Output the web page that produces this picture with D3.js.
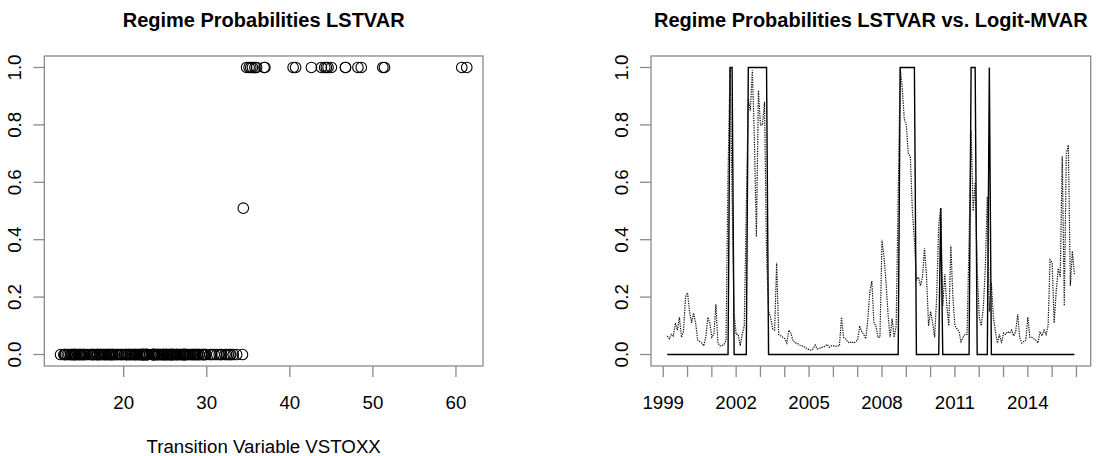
<!DOCTYPE html>
<html><head><meta charset="utf-8">
<script src="https://cdn.jsdelivr.net/npm/d3@7"></script>
<style>
body{margin:0;background:#fff}
text{font-family:"Liberation Sans",Arial,Helvetica,sans-serif;fill:#000}
</style>
</head><body>
<svg id="c" width="1118" height="456"></svg>
<script>
// ---- data (monthly, Mar 1999 .. Dec 2015) ----
const startYear = 1999, startMonth = 3;
const vstoxx = [
  28.5,26.0,24.5,22.8,21.5,24.0,25.2,27.4,22.6,21.0,
  25.5,26.3,27.1,28.9,29.8,23.7,21.9,20.4,23.5,27.8,26.4,27.3,
  24.1,25.6,30.4,29.1,22.3,22.9,25.1,26.2,33.6,40.4,36.9,27.2,
  24.8,26.7,22.4,25.9,29.9,32.4,42.6,45.0,48.6,51.2,40.7,36.0,
  43.8,46.7,48.2,35.8,32.9,28.4,27.5,24.2,31.8,23.6,22.1,20.3,
  19.8,20.9,23.4,19.2,21.5,18.7,17.9,18.4,17.1,17.6,15.9,14.8,
  14.2,13.6,14.9,17.2,15.1,13.9,13.4,14.5,13.2,16.8,14.1,13.0,
  14.6,14.0,13.7,16.5,24.8,22.3,16.9,15.4,14.3,13.8,12.9,12.4,
  12.8,14.7,17.8,15.2,14.1,16.3,20.6,24.5,22.8,20.1,21.7,22.4,
  27.6,28.3,29.4,24.9,23.5,25.8,28.9,27.1,31.5,61.3,60.7,51.4,
  46.7,44.6,44.2,35.5,35.1,31.2,29.7,27.3,26.8,28.6,25.4,24.7,
  25.6,26.9,22.8,24.3,34.3,34.4,28.1,26.5,25.7,24.0,27.2,25.1,
  23.8,22.6,28.0,21.9,22.2,23.6,32.2,33.2,44.4,37.0,35.3,32.8,
  30.6,26.4,24.8,28.7,32.6,34.8,29.6,25.2,22.3,21.4,20.6,18.9,
  18.5,19.6,20.8,19.1,18.2,22.1,18.7,19.8,18.3,16.8,16.2,17.5,
  18.1,17.3,16.4,16.9,15.6,15.2,16.1,17.8,18.6,21.3,19.4,22.5,
  23.7,21.2,20.3,22.8,23.6,25.9,27.4,29.5,30.9,31.7,25.8,29.1
];
const lstvarProb = [
  0,0,0,0,0,0,0,0,0,0,
  0,0,0,0,0,0,0,0,0,0,0,0,
  0,0,0,0,0,0,0,0,0,1,1,0,
  0,0,0,0,0,0,1,1,1,1,1,1,
  1,1,1,1,0,0,0,0,0,0,0,0,
  0,0,0,0,0,0,0,0,0,0,0,0,
  0,0,0,0,0,0,0,0,0,0,0,0,
  0,0,0,0,0,0,0,0,0,0,0,0,
  0,0,0,0,0,0,0,0,0,0,0,0,
  0,0,0,0,0,0,0,0,0,1,1,1,
  1,1,1,1,1,0,0,0,0,0,0,0,
  0,0,0,0,0,0.51,0,0,0,0,0,0,
  0,0,0,0,0,0,0,0,1,1,1,0,
  0,0,0,0,0,1,0,0,0,0,0,0,
  0,0,0,0,0,0,0,0,0,0,0,0,
  0,0,0,0,0,0,0,0,0,0,0,0,
  0,0,0,0,0,0,0,0,0,0,0,0
];
const logitProb = [
  0.065,0.055,0.07,0.065,0.11,0.085,0.13,0.06,0.08,0.20,
  0.215,0.15,0.11,0.145,0.11,0.05,0.045,0.04,0.03,0.06,0.13,0.11,
  0.06,0.07,0.175,0.04,0.03,0.03,0.035,0.05,0.63,1.0,0.55,0.14,
  0.07,0.07,0.03,0.07,0.10,0.50,0.89,0.85,0.99,0.75,0.41,0.92,
  0.80,0.80,0.88,0.35,0.15,0.13,0.09,0.085,0.32,0.07,0.065,0.06,
  0.055,0.04,0.085,0.075,0.05,0.04,0.04,0.035,0.03,0.03,0.025,0.02,
  0.017,0.015,0.02,0.033,0.02,0.02,0.025,0.025,0.03,0.035,0.025,0.03,
  0.03,0.028,0.03,0.03,0.13,0.06,0.055,0.045,0.04,0.045,0.04,0.045,
  0.05,0.10,0.08,0.07,0.055,0.12,0.22,0.256,0.11,0.10,0.06,0.06,
  0.40,0.34,0.25,0.14,0.06,0.125,0.06,0.10,0.55,1.0,0.93,0.82,
  0.80,0.70,0.69,0.50,0.40,0.26,0.27,0.24,0.27,0.37,0.27,0.10,
  0.15,0.11,0.06,0.20,0.45,0.51,0.17,0.28,0.17,0.10,0.38,0.20,
  0.10,0.09,0.08,0.045,0.06,0.07,0.07,0.40,0.78,0.50,0.60,0.30,
  0.13,0.10,0.16,0.30,0.55,0.15,0.25,0.13,0.08,0.04,0.07,0.04,
  0.075,0.07,0.08,0.075,0.085,0.065,0.08,0.14,0.06,0.04,0.045,0.05,
  0.13,0.06,0.06,0.055,0.05,0.04,0.08,0.065,0.085,0.07,0.10,0.33,
  0.32,0.11,0.22,0.30,0.27,0.69,0.17,0.70,0.73,0.24,0.36,0.28
];
const leftTitle = "Regime Probabilities LSTVAR";
const rightTitle = "Regime Probabilities LSTVAR vs. Logit-MVAR";
const leftXLabel = "Transition Variable VSTOXX";
const leftXTicks = [20,30,40,50,60];
const yTicks = [0,0.2,0.4,0.6,0.8,1.0];
const yearTicks = [1999,2000,2001,2002,2003,2004,2005,2006,2007,2008,2009,2010,2011,2012,2013,2014,2015,2016];
const yearLabels = [1999,2002,2005,2008,2011,2014];

// ---- drawing ----
const svg = d3.select("#c");
const axisCol = "#8a8a8a";
const fs = 18.7;
function pad(ext){const r=ext[1]-ext[0];return [ext[0]-0.04*r, ext[1]+0.04*r];}

const plotTop=56, plotBottom=366;
const y = d3.scaleLinear().domain(pad([0,1])).range([plotBottom, plotTop]);

function frame(g, x, left, right, xt, xlabels, title){
  g.append("rect").attr("x",left).attr("y",plotTop).attr("width",right-left).attr("height",plotBottom-plotTop)
    .attr("fill","none").attr("stroke",axisCol).attr("stroke-width",1.3);
  g.selectAll(".yt").data(yTicks).enter().append("line")
    .attr("x1",left).attr("x2",left-11).attr("y1",d=>y(d)).attr("y2",d=>y(d))
    .attr("stroke",axisCol).attr("stroke-width",1.3);
  g.selectAll(".yl").data(yTicks).enter().append("text")
    .attr("transform",d=>`translate(${left-30},${y(d)}) rotate(-90)`)
    .attr("text-anchor","middle").attr("dy","0.36em").attr("font-size",fs)
    .text(d=>d3.format(".1f")(d));
  g.selectAll(".xt").data(xt).enter().append("line")
    .attr("x1",d=>x(d)).attr("x2",d=>x(d)).attr("y1",plotBottom).attr("y2",plotBottom+11)
    .attr("stroke",axisCol).attr("stroke-width",1.3);
  g.selectAll(".xl").data(xlabels).enter().append("text")
    .attr("x",d=>x(d)).attr("y",409).attr("text-anchor","middle").attr("font-size",fs)
    .text(d=>d);
  g.append("text").attr("x",(left+right)/2).attr("y",27).attr("text-anchor","middle")
    .attr("font-size",20).attr("font-weight","bold").text(title);
}

// left panel
const lx = d3.scaleLinear().domain(pad(d3.extent(vstoxx))).range([44.3, 483]);
const gL = svg.append("g");
frame(gL, lx, 44.3, 483, leftXTicks, leftXTicks, leftTitle);
gL.append("text").attr("x",(44.3+483)/2).attr("y",453).attr("text-anchor","middle")
  .attr("font-size",fs).text(leftXLabel);
gL.selectAll("circle").data(vstoxx.map((v,i)=>[v,lstvarProb[i]])).enter().append("circle")
  .attr("cx",d=>lx(d[0])).attr("cy",d=>y(d[1])).attr("r",5.3)
  .attr("fill","none").attr("stroke","#000").attr("stroke-width",1.1);

// right panel
const times = lstvarProb.map((_,i)=>startYear + (startMonth-1+i)/12);
const rx = d3.scaleLinear().domain(pad(d3.extent(times))).range([651, 1090.7]);
const gR = svg.append("g");
frame(gR, rx, 651, 1090.7, yearTicks, yearLabels, rightTitle);
const line = d3.line().x((d,i)=>rx(times[i])).y(d=>y(d));
gR.append("path").datum(lstvarProb).attr("d",line).attr("fill","none")
  .attr("stroke","#000").attr("stroke-width",1.4);
gR.append("path").datum(logitProb).attr("d",line).attr("fill","none")
  .attr("stroke","#111").attr("stroke-width",1.2).attr("stroke-dasharray","1.3,1.1");
</script>
</body></html>
